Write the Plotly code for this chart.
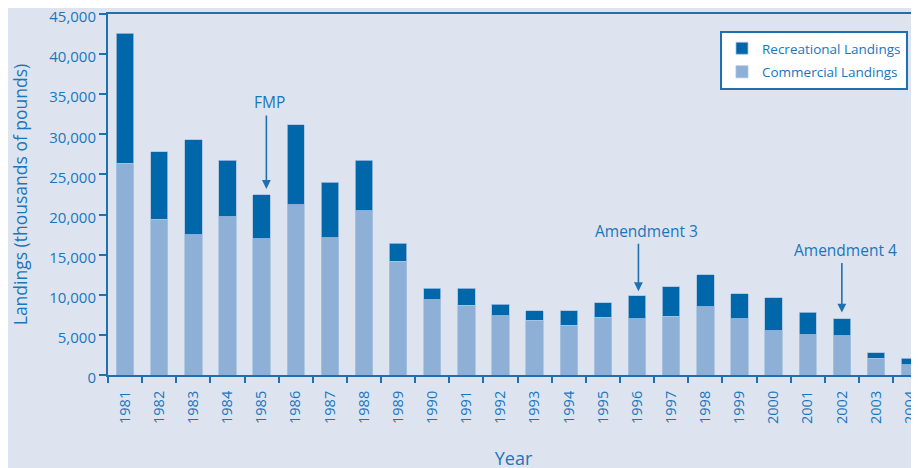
import plotly.graph_objects as go

years = [str(y) for y in range(1981, 2005)]
commercial = [26400, 19400, 17500, 19700, 17000, 21200, 17100, 20500, 14200, 9400,
              8700, 7400, 6800, 6200, 7200, 7000, 7300, 8500, 7000, 5500,
              5000, 4900, 2100, 1300]
total = [42600, 27800, 29300, 26800, 22500, 31200, 24000, 26800, 16400, 10800,
         10800, 8800, 8000, 8000, 9000, 9900, 11000, 12500, 10100, 9600,
         7800, 7000, 2800, 2100]
recreational = [t - c for t, c in zip(total, commercial)]

events = ["FMP", "Amendment 3", "Amendment 4"]
event_years = ["1985", "1996", "2002"]

DARK = "#0067aa"
LIGHT = "#8fb0d6"
BG = "#dde4f0"
TXT = "#1b75bb"
AX = "#1f70b0"
FONT = "Open Sans"

fig = go.Figure()
fig.add_trace(go.Bar(x=years, y=commercial, name="Commercial Landings",
                     legendgroup="c", legendrank=2,
                     marker=dict(color=LIGHT, line=dict(color="#a8c2e0", width=0.8)),
                     width=0.51))
fig.add_trace(go.Bar(x=years, y=recreational, name="Recreational Landings",
                     legendgroup="r", legendrank=1,
                     marker=dict(color=DARK, line=dict(color="#a8c2e0", width=0.8)),
                     width=0.51))

# (year, x offset, tip value, tail pixel offset, text x offset, text y value)
arrow_specs = [
    (event_years[0], 0.14, 23200, -75, 0.1, 34000),
    (event_years[1], 0.04, 10450, -49, 0.25, 17900),
    (event_years[2], 0.0, 7800, -51, 0.1, 15550),
]
xcat = {y: i for i, y in enumerate(years)}
annotations = []
for (yr, dx, tip, tail, tdx, ty), label in zip(arrow_specs, events):
    xi = xcat[yr] + dx
    annotations.append(dict(x=xi, y=tip, xref="x", yref="y", text="", showarrow=True,
                            ax=0, ay=tail, arrowhead=2, arrowsize=1.1, arrowwidth=1.6,
                            arrowcolor=AX))
    annotations.append(dict(x=xi + tdx, y=ty, xref="x", yref="y", text=label,
                            showarrow=False, font=dict(family=FONT, size=15.5, color=TXT)))

fig.update_layout(
    width=919, height=468,
    margin=dict(l=100, r=8, t=6, b=101, autoexpand=False),
    paper_bgcolor=BG, plot_bgcolor=BG,
    barmode="stack",
    font=dict(family=FONT, color=TXT, size=14),
    showlegend=True,
    legend=dict(x=0.7546, y=0.953, xanchor="left", yanchor="top",
                traceorder="grouped", bgcolor="white", bordercolor=AX, borderwidth=2,
                font=dict(family=FONT, size=13.5, color=TXT),
                itemwidth=30, tracegroupgap=3),
    annotations=annotations,
)
fig.update_xaxes(
    type="category", range=[-0.5, 23.26], automargin=False,
    showline=True, linecolor=AX, linewidth=2, mirror=True,
    ticks="outside", ticklen=6, tickwidth=2, tickcolor=AX, tickson="boundaries",
    tickangle=-90, tickfont=dict(family=FONT, size=14.5, color=TXT),
    ticklabelstandoff=8,
    title=dict(text="Year", font=dict(family=FONT, size=18, color=TXT), standoff=29),
    showgrid=False,
)
fig.update_yaxes(
    range=[0, 45000], dtick=5000, tickformat=",", automargin=False,
    ticklabeloverflow="allow", ticklabelshift=3,
    showline=True, linecolor=AX, linewidth=2,
    ticks="outside", ticklen=7, tickwidth=2, tickcolor=AX,
    tickfont=dict(family=FONT, size=15, color=TXT),
    title=dict(text="Landings (thousands of pounds)", font=dict(family=FONT, size=17.5, color=TXT), standoff=20),
    showgrid=False, zeroline=False,
)

fig.write_html("out.html")
